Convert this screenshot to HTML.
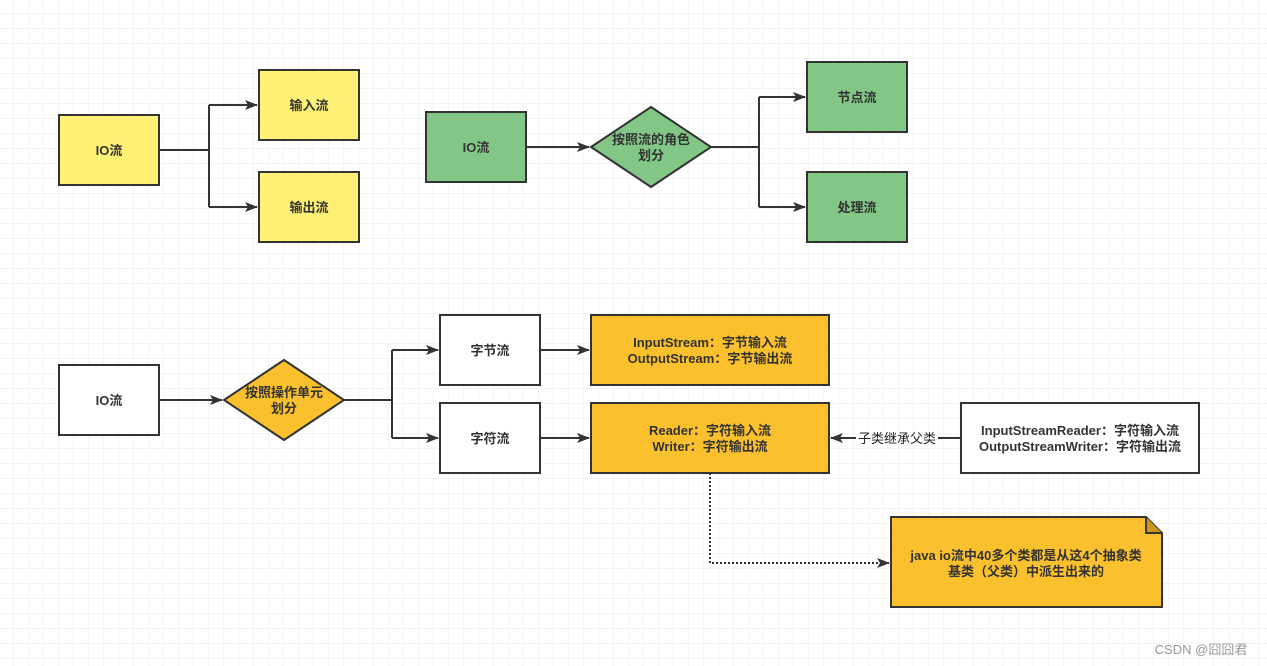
<!DOCTYPE html>
<html><head><meta charset="utf-8"><style>
html,body{margin:0;padding:0;background:#fff;}
svg{display:block;}
text{font-family:"Liberation Sans","Noto Sans CJK SC",sans-serif;font-size:13px;font-weight:bold;fill:#333;text-anchor:middle;}
</style></head><body>
<svg width="1267" height="666" viewBox="0 0 1267 666" xmlns="http://www.w3.org/2000/svg">
<defs>
<pattern id="g" x="-1" y="-1" width="15" height="15" patternUnits="userSpaceOnUse">
<path d="M15 0V15M0 15H15" stroke="#e8e8e8" stroke-width="1" fill="none"/>
</pattern>
<marker id="a" markerWidth="13" markerHeight="10" refX="12" refY="5" orient="auto" markerUnits="userSpaceOnUse">
<path d="M0 0L13 5L0 10L3 5Z" fill="#333"/>
</marker>
</defs>
<rect width="1267" height="666" fill="url(#g)"/>
<g stroke="#333" stroke-width="2" fill="none">
<path d="M159 150H209M209 105V207" />
<path d="M209 105H257" marker-end="url(#a)"/><path d="M209 207H257" marker-end="url(#a)"/>
<path d="M526 147H589" marker-end="url(#a)"/>
<path d="M711 147H759M759 97V207"/>
<path d="M759 97H805" marker-end="url(#a)"/><path d="M759 207H805" marker-end="url(#a)"/>
<path d="M159 400H222" marker-end="url(#a)"/>
<path d="M344 400H392M392 350V438"/>
<path d="M392 350H438" marker-end="url(#a)"/><path d="M392 438H438" marker-end="url(#a)"/>
<path d="M540 350H589" marker-end="url(#a)"/><path d="M540 438H589" marker-end="url(#a)"/>
<path d="M961 438H831" marker-end="url(#a)"/>
<path d="M710 473V563H889" stroke-dasharray="2,2" marker-end="url(#a)"/>
</g>
<g stroke="#333" stroke-width="2">
<rect x="59" y="115" width="100" height="70" fill="#fff176"/>
<rect x="259" y="70" width="100" height="70" fill="#fff176"/>
<rect x="259" y="172" width="100" height="70" fill="#fff176"/>
<rect x="426" y="112" width="100" height="70" fill="#82c785"/>
<path d="M591 147L651 107L711 147L651 187Z" fill="#82c785"/>
<rect x="807" y="62" width="100" height="70" fill="#82c785"/>
<rect x="807" y="172" width="100" height="70" fill="#82c785"/>
<rect x="59" y="365" width="100" height="70" fill="#fff"/>
<path d="M224 400L284 360L344 400L284 440Z" fill="#fbc02d"/>
<rect x="440" y="315" width="100" height="70" fill="#fff"/>
<rect x="440" y="403" width="100" height="70" fill="#fff"/>
<rect x="591" y="315" width="238" height="70" fill="#fbc02d"/>
<rect x="591" y="403" width="238" height="70" fill="#fbc02d"/>
<rect x="961" y="403" width="238" height="70" fill="#fff"/>
<path d="M891 517H1146L1162 533V607H891Z" fill="#fbc02d"/>
<path d="M1146 517V533H1162" fill="#c9961f"/>
</g>
<rect x="856" y="430" width="82" height="16" fill="#fff"/>
<text x="109" y="155">IO流</text>
<text x="309" y="110">输入流</text>
<text x="309" y="212">输出流</text>
<text x="476" y="152">IO流</text>
<text x="651" y="144">按照流的角色</text>
<text x="651" y="160">划分</text>
<text x="857" y="102">节点流</text>
<text x="857" y="212">处理流</text>
<text x="109" y="405">IO流</text>
<text x="284" y="397">按照操作单元</text>
<text x="284" y="413">划分</text>
<text x="490" y="355">字节流</text>
<text x="490" y="443">字符流</text>
<text x="710" y="347">InputStream：字节输入流</text>
<text x="710" y="363">OutputStream：字节输出流</text>
<text x="710" y="435">Reader：字符输入流</text>
<text x="710" y="451">Writer：字符输出流</text>
<text x="1080" y="435">InputStreamReader：字符输入流</text>
<text x="1080" y="451">OutputStreamWriter：字符输出流</text>
<text x="897" y="443" style="font-weight:normal;fill:#222">子类继承父类</text>
<text x="1026" y="560">java io流中40多个类都是从这4个抽象类</text>
<text x="1026" y="576">基类（父类）中派生出来的</text>
<text x="1201" y="654" style="font-weight:normal;fill:#999">CSDN @囧囧君</text>
</svg>
</body></html>
